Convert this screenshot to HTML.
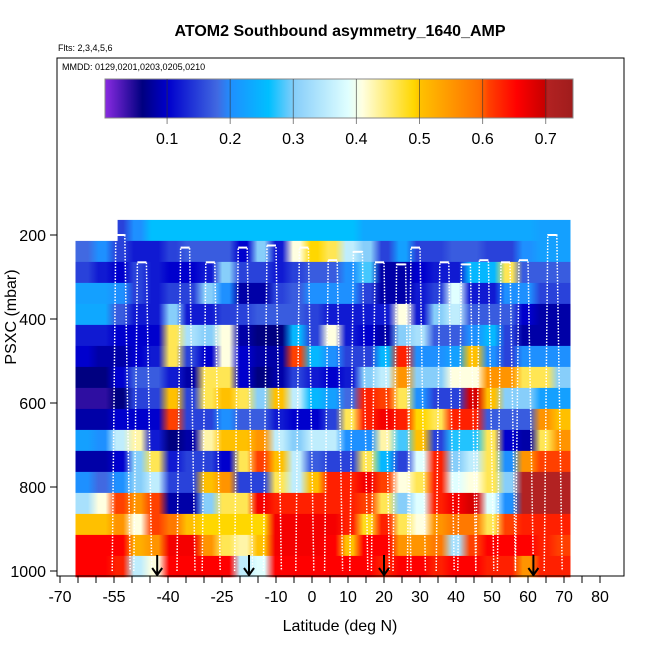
<!DOCTYPE html>
<html><head><meta charset="utf-8"><style>
body{margin:0;background:#fff;}
svg{display:block;font-family:"Liberation Sans",sans-serif;}
</style></head><body>
<svg id="c" width="650" height="650" viewBox="0 0 650 650" xmlns="http://www.w3.org/2000/svg">
<defs id="defs">
<linearGradient id="cbg" x1="0" x2="1" y1="0" y2="0">
<stop offset="0" stop-color="#8a2be2"/><stop offset="0.08" stop-color="#000080"/><stop offset="0.135" stop-color="#0000cd"/><stop offset="0.24" stop-color="#4169e1"/><stop offset="0.27" stop-color="#1e90ff"/><stop offset="0.35" stop-color="#00bfff"/><stop offset="0.405" stop-color="#87cefa"/><stop offset="0.52" stop-color="#e0ffff"/><stop offset="0.55" stop-color="#ffffe0"/><stop offset="0.66" stop-color="#ffd700"/><stop offset="0.675" stop-color="#ffc000"/><stop offset="0.8" stop-color="#ff7000"/><stop offset="0.82" stop-color="#ff4000"/><stop offset="0.88" stop-color="#ff0000"/><stop offset="0.94" stop-color="#c80000"/><stop offset="0.946" stop-color="#b22222"/><stop offset="1" stop-color="#a01c1c"/>
</linearGradient>
</defs>
<text x="340" y="36" text-anchor="middle" font-size="16" font-weight="bold">ATOM2 Southbound asymmetry_1640_AMP</text>
<text x="58" y="51" font-size="9">Flts: 2,3,4,5,6</text>
<g id="heat"></g>
<g id="prof"></g>
<rect x="57" y="58" width="567" height="518" fill="none" stroke="#000"/>
<text x="62" y="70" font-size="9">MMDD: 0129,0201,0203,0205,0210</text>
<rect x="105" y="79" width="468" height="39" fill="url(#cbg)" stroke="#888"/>
<g id="cbt"></g>
<g id="axes"></g>
<text x="340" y="631" text-anchor="middle" font-size="16">Latitude (deg N)</text>
<text transform="translate(16,317) rotate(-90)" text-anchor="middle" font-size="16">PSXC (mbar)</text>
</svg>
<script>
const latStart = -65.7, latEnd = 71.8, topBandStart = -54;
const presCenters = [189,239,289,339,389,439,489,539,589,639,689,739,789,839,889,939,989];
const n=null;
const row0=[n,n,0.15,0.2,0.26,0.26,0.26,0.26,0.26,0.26,0.26,0.26,0.26,0.26,0.26,0.26,0.23,0.23,0.23,0.23,0.23,0.23,0.23,0.23,0.23,0.23,0.22,0.22];
const row1=[0.18,0.2,0.15,0.12,0.12,0.15,0.17,0.17,0.17,0.1,0.3,0.12,0.4,0.48,0.45,0.35,0.3,0.15,0.22,0.15,0.15,0.17,0.17,0.15,0.15,0.2,0.22,0.22];
const row2=[0.15,0.12,0.1,0.15,0.12,0.1,0.1,0.12,0.3,0.15,0.15,0.12,0.15,0.17,0.17,0.2,0.28,0.08,0.08,0.1,0.12,0.12,0.25,0.25,0.45,0.17,0.17,0.17];
const row3=[0.22,0.22,0.2,0.15,0.12,0.15,0.15,0.3,0.2,0.08,0.08,0.15,0.17,0.2,0.2,0.2,0.15,0.08,0.08,0.12,0.15,0.38,0.12,0.12,0.2,0.2,0.15,0.15];
const row4=[0.23,0.23,0.17,0.12,0.12,0.3,0.12,0.12,0.15,0.15,0.17,0.17,0.17,0.15,0.12,0.12,0.12,0.12,0.4,0.12,0.3,0.35,0.17,0.17,0.17,0.1,0.08,0.08];
const row5=[0.12,0.12,0.1,0.1,0.1,0.45,0.33,0.3,0.4,0.08,0.06,0.06,0.25,0.15,0.4,0.12,0.1,0.08,0.3,0.33,0.17,0.17,0.2,0.25,0.15,0.08,0.08,0.08];
const row6=[0.1,0.08,0.08,0.1,0.12,0.45,0.15,0.1,0.4,0.1,0.08,0.08,0.6,0.25,0.2,0.15,0.15,0.25,0.62,0.2,0.2,0.22,0.5,0.2,0.15,0.2,0.2,0.2];
const row7=[0.06,0.06,0.1,0.17,0.17,0.12,0.08,0.45,0.45,0.1,0.06,0.08,0.15,0.12,0.1,0.12,0.3,0.35,0.55,0.3,0.3,0.4,0.4,0.55,0.55,0.45,0.45,0.3];
const row8=[0.04,0.04,0.06,0.15,0.15,0.5,0.15,0.45,0.5,0.45,0.3,0.5,0.35,0.25,0.22,0.18,0.62,0.6,0.45,0.2,0.15,0.15,0.68,0.5,0.3,0.3,0.22,0.22];
const row9=[0.08,0.08,0.1,0.1,0.1,0.6,0.15,0.15,0.2,0.17,0.17,0.12,0.1,0.1,0.15,0.45,0.62,0.65,0.62,0.48,0.45,0.62,0.62,0.17,0.17,0.17,0.55,0.5];
const row10=[0.22,0.2,0.35,0.42,0.12,0.06,0.08,0.42,0.5,0.5,0.55,0.35,0.3,0.35,0.35,0.2,0.2,0.42,0.28,0.5,0.15,0.27,0.27,0.45,0.1,0.08,0.45,0.55];
const row11=[0.08,0.08,0.1,0.3,0.45,0.12,0.15,0.15,0.1,0.45,0.6,0.5,0.35,0.17,0.15,0.15,0.45,0.25,0.15,0.38,0.62,0.3,0.35,0.45,0.2,0.55,0.6,0.6];
const row12=[0.2,0.18,0.2,0.3,0.35,0.15,0.15,0.5,0.55,0.15,0.15,0.45,0.35,0.5,0.62,0.62,0.65,0.6,0.4,0.45,0.62,0.38,0.4,0.45,0.3,0.7,0.7,0.7];
const row13=[0.33,0.4,0.6,0.55,0.6,0.08,0.08,0.3,0.45,0.45,0.65,0.62,0.62,0.62,0.62,0.62,0.6,0.45,0.3,0.38,0.62,0.65,0.68,0.38,0.2,0.7,0.7,0.7];
const row14=[0.5,0.5,0.55,0.4,0.6,0.58,0.5,0.48,0.48,0.48,0.48,0.65,0.65,0.65,0.65,0.62,0.47,0.62,0.45,0.4,0.55,0.58,0.58,0.45,0.6,0.62,0.62,0.62];
const row15=[0.64,0.64,0.64,0.52,0.55,0.65,0.65,0.55,0.45,0.42,0.5,0.65,0.65,0.65,0.64,0.5,0.64,0.64,0.55,0.55,0.58,0.33,0.6,0.64,0.64,0.64,0.62,0.6];
const row16=[0.64,0.64,0.62,0.35,0.4,0.64,0.64,0.64,0.64,0.35,0.38,0.64,0.64,0.64,0.64,0.64,0.64,0.62,0.64,0.64,0.62,0.64,0.64,0.62,0.62,0.55,0.62,0.62];
const rows=[row0,row1,row2,row3,row4,row5,row6,row7,row8,row9,row10,row11,row12,row13,row14,row15,row16];
const profLats=[-54,-48,-36,-29,-20,-12,-3,5,12,18,24,28,36,42,47,53,58,66];
const profTops=[200,265,230,265,230,225,230,260,240,265,270,230,265,270,260,265,260,200];
const arrowLats=[-43,-17.5,20,61.5];
const xTicks=[-70,-55,-40,-25,-10,0,10,20,30,40,50,60,70,80];
const yTicks=[200,400,600,800,1000];
const cbTicks=[0.1,0.2,0.3,0.4,0.5,0.6,0.7];

const X=lat=>60+(lat+70)*3.6;
const Y=p=>151+p*0.42;
const CB=v=>104+v*631;
const stops=[[0,[138,43,226]],[0.06,[0,0,128]],[0.1,[0,0,205]],[0.18,[65,105,225]],[0.2,[30,144,255]],[0.26,[0,191,255]],[0.3,[135,206,250]],[0.38,[224,255,255]],[0.4,[255,255,224]],[0.48,[255,215,0]],[0.5,[255,192,0]],[0.59,[255,112,0]],[0.6,[255,64,0]],[0.64,[255,0,0]],[0.695,[200,0,0]],[0.7,[178,34,34]],[0.74,[160,28,28]]];
function col(v){v=Math.max(0,Math.min(0.74,v));for(let i=1;i<stops.length;i++){if(v<=stops[i][0]){const a=stops[i-1],b=stops[i],t=(v-a[0])/(b[0]-a[0]);return 'rgb('+a[1].map((c,k)=>Math.round(c+(b[1][k]-c)*t)).join(',')+')';}}return 'rgb(160,28,28)';}
const NS='http://www.w3.org/2000/svg';
function mk(t,a,p){const e=document.createElementNS(NS,t);for(const k in a)e.setAttribute(k,a[k]);p.appendChild(e);return e;}
const heat=document.getElementById('heat'), defs=document.getElementById('defs');
rows.forEach((r,ri)=>{
 const y0=Y(presCenters[ri]-25),y1=Y(presCenters[ri]+25);
 const step=(latEnd-latStart)/r.length;
 let first=r.findIndex(v=>v!==null);
 const l0=(ri===0)?topBandStart:latStart+first*step;
 const x0=X(l0),x1=X(latEnd);
 const g=mk('linearGradient',{id:'rg'+ri,gradientUnits:'userSpaceOnUse',x1:x0,x2:x1,y1:0,y2:0},defs);
 r.forEach((v,ci)=>{if(v===null)return;
   const ca=X(latStart+ci*step+step*0.3), cb=X(latStart+(ci+1)*step-step*0.3);
   [ca,cb].forEach(cx=>{const off=Math.max(0,Math.min(1,(cx-x0)/(x1-x0)));mk('stop',{offset:off.toFixed(4),'stop-color':col(v)},g);});
 });
 const e=mk('rect',{x:x0.toFixed(1),y:y0.toFixed(1),width:(x1-x0).toFixed(1),height:(y1-y0+0.4).toFixed(1),fill:'url(#rg'+ri+')'},heat);
 
 
});
const prof=document.getElementById('prof');
profLats.forEach((lat,i)=>{const top=profTops[i];
 const d='M'+X(lat-1.5)+','+Y(1000)+' L'+X(lat-0.5)+','+Y(top)+' L'+X(lat+2)+','+Y(top)+' L'+X(lat+3.5)+','+Y(1000);
 const e=mk('path',{d:d,fill:'none',stroke:'#fff','stroke-width':1.5,'stroke-dasharray':'1.5,1.5'},prof);
 
 
 const s=mk('line',{x1:X(lat-0.5),y1:Y(top),x2:X(lat+2),y2:Y(top),stroke:'#fff','stroke-width':2},prof);
 
 
});
const ax=document.getElementById('axes');
arrowLats.forEach(lat=>{const x=X(lat);
 const a=mk('path',{d:'M'+x+',555 L'+x+',575 M'+(x-5)+',568 L'+x+',575 L'+(x+5)+',568',stroke:'#000','stroke-width':2,fill:'none'},ax);
 
 
});
for(let l=-70;l<=80;l+=5){const x=X(l);mk('line',{x1:x,y1:576,x2:x,y2:583,stroke:'#000'},ax);}
xTicks.forEach(l=>{const t=mk('text',{x:X(l),y:602,'text-anchor':'middle','font-size':16},ax);t.textContent=l;
 
 });
yTicks.forEach(p=>{const y=Y(p);mk('line',{x1:50,y1:y,x2:57,y2:y,stroke:'#000'},ax);
 const t=mk('text',{x:46,y:y+6,'text-anchor':'end','font-size':16},ax);t.textContent=p;
 
 });
const cbt=document.getElementById('cbt');
cbTicks.forEach(v=>{const x=CB(v);mk('line',{x1:x,y1:79,x2:x,y2:124,stroke:'#333','stroke-opacity':0.6},cbt);
 const t=mk('text',{x:x,y:144,'text-anchor':'middle','font-size':16},cbt);t.textContent=v.toFixed(1);
 
 });
</script>
</body></html>
